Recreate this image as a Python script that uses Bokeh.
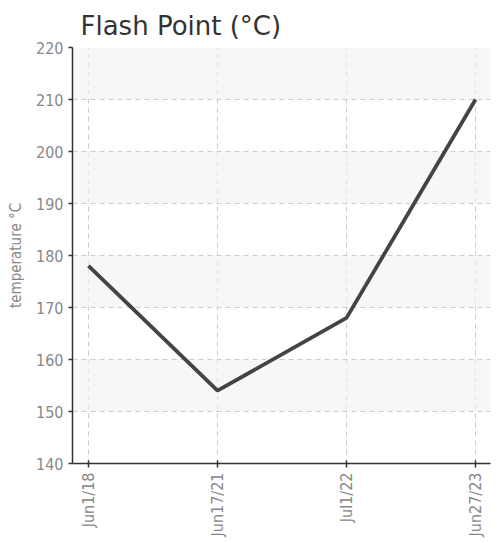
from bokeh.plotting import figure
from bokeh.models import FixedTicker, Range1d
from bokeh.embed import file_html
from bokeh.resources import INLINE

dates = ["Jun1/18", "Jun17/21", "Jul1/22", "Jun27/23"]
flash_point = [178, 154, 168, 210]
y_ticks = [140, 150, 160, 170, 180, 190, 200, 210, 220]

xs = list(range(len(dates)))

LABEL_FONT = "DejaVu Sans Condensed"

p = figure(width=493, height=539, output_backend="svg", toolbar_location=None,
           x_range=Range1d(-0.124, 3.116), y_range=Range1d(140, 220),
           min_border_left=72, min_border_right=3, min_border_top=47, min_border_bottom=76)

p.title.text = "Flash Point (°C)"
p.title.text_font = "DejaVu Sans"
p.title.text_font_size = "26px"
p.title.text_font_style = "normal"
p.title.text_color = "#333333"
p.title.vertical_align = "top"
p.title.offset = 8
p.title.standoff = 10

p.line(xs, flash_point, line_color="#444444", line_width=3.8)

p.outline_line_color = None
p.background_fill_color = "white"

p.xaxis.ticker = FixedTicker(ticks=xs)
p.xaxis.major_label_overrides = {i: d for i, d in enumerate(dates)}
p.xaxis.major_label_orientation = 1.5708
p.yaxis.ticker = FixedTicker(ticks=y_ticks)

for ax in (p.xaxis, p.yaxis):
    ax.axis_line_color = "#333333"
    ax.axis_line_width = 1.5
    ax.major_tick_line_color = "#333333"
    ax.major_tick_line_width = 1.5
    ax.minor_tick_line_color = None
    ax.major_label_text_font = LABEL_FONT
    ax.major_label_text_font_size = "16px"
    ax.major_label_text_color = "#888888"
    ax.major_label_standoff = 5

p.xaxis.major_tick_in = 3
p.xaxis.major_tick_out = 4
p.yaxis.major_tick_in = 0
p.yaxis.major_tick_out = 4

p.yaxis.axis_label = "temperature °C"
p.yaxis.axis_label_text_font = LABEL_FONT
p.yaxis.axis_label_text_font_size = "15px"
p.yaxis.axis_label_text_font_style = "normal"
p.yaxis.axis_label_text_color = "#888888"
p.yaxis.axis_label_standoff = 8

p.xgrid.grid_line_color = "#cccccc"
p.xgrid.grid_line_dash = "5 4"
p.ygrid.grid_line_color = "#cccccc"
p.ygrid.grid_line_dash = "5 4"
p.ygrid.band_fill_color = "#f2f2f2"
p.ygrid.band_fill_alpha = 0.6

open("out.html", "w").write(file_html(p, INLINE))
